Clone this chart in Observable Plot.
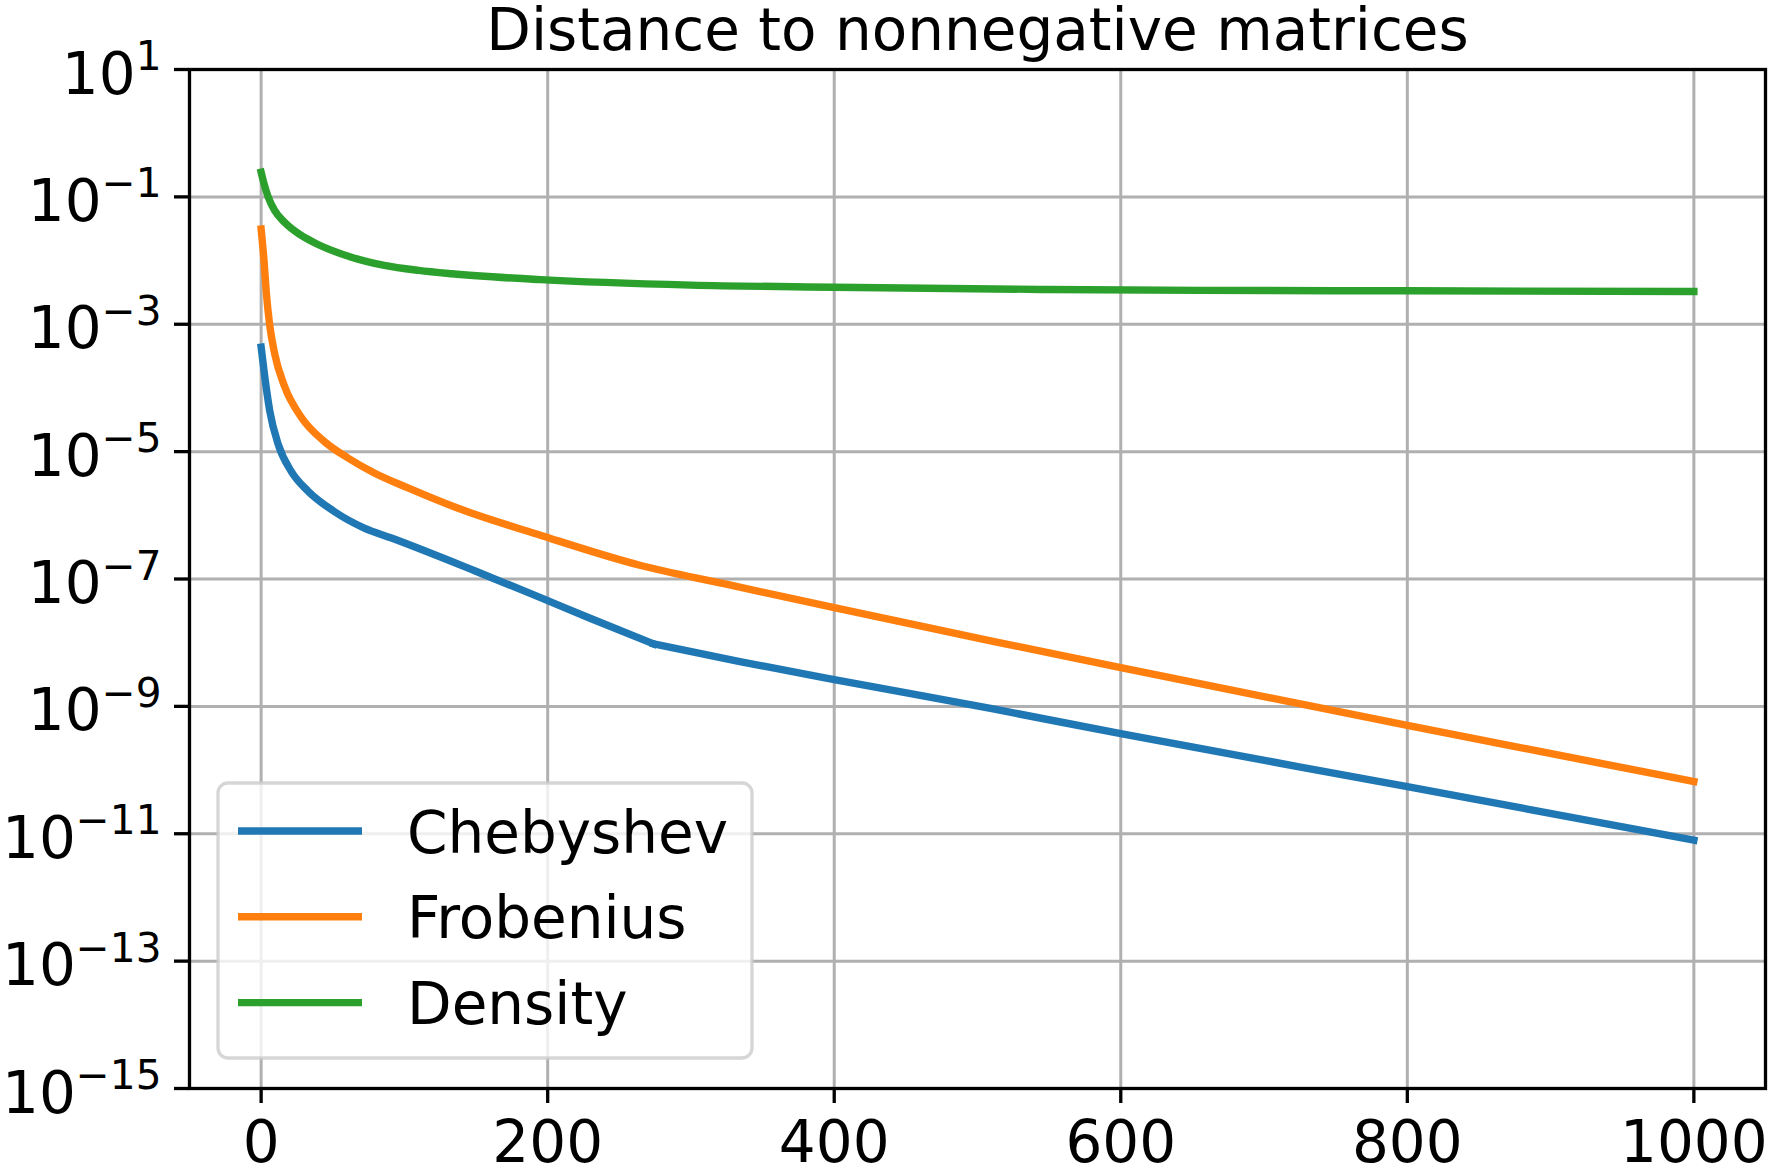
<!DOCTYPE html>
<html>
<head>
<meta charset="utf-8">
<script src="https://cdn.jsdelivr.net/npm/d3@7"></script>
<script src="https://cdn.jsdelivr.net/npm/@observablehq/plot@0.6"></script>
<style>
  html, body { margin: 0; padding: 0; background: #fff; }
  svg { display: block; }
</style>
</head>
<body>
<div id="chart"></div>
<script>
// ---- Data ----
const chartTitle = "Distance to nonnegative matrices";
const seriesNames = ["Chebyshev", "Frobenius", "Density"];
const seriesColors = ["#1f77b4", "#ff7f0e", "#2ca02c"];
const xTicks = [0, 200, 400, 600, 800, 1000];
const yTickExponents = [1, -1, -3, -5, -7, -9, -11, -13, -15];

const chebyshevIter = [0, 2.4, 6, 12, 21, 32.7, 51, 72, 91, 149, 195, 230, 274, 335, 400, 510, 600, 800, 1000];
const chebyshevValue = [4.37e-4, 1.58e-4, 4.37e-5, 1.29e-5, 4.90e-6, 2.40e-6, 1.15e-6, 6.31e-7, 4.40e-7, 1.35e-7, 5.10e-8, 2.40e-8, 9.55e-9, 5.01e-9, 2.63e-9, 9.20e-10, 3.72e-10, 5.50e-11, 7.94e-12];
const chebyshevKinkIter = 274; // sharp change of slope in the reference

const frobeniusIter = [0, 2.0, 3.6, 5.9, 9.4, 16.4, 28, 44, 60.6, 79, 102.5, 137, 195.4, 265, 323, 400, 510, 600, 800, 1000];
const frobeniusValue = [3.13e-2, 1.00e-2, 3.16e-3, 1.00e-3, 3.47e-4, 1.05e-4, 3.47e-5, 1.45e-5, 7.94e-6, 4.62e-6, 2.69e-6, 1.30e-6, 4.83e-7, 1.63e-7, 8.43e-8, 3.55e-8, 1.06e-8, 4.05e-9, 5.01e-10, 6.61e-11];

const densityIter = [0, 2.0, 4.8, 9.4, 16.4, 28, 39.7, 63, 86, 110, 133, 195, 300, 400, 544, 656, 800, 1000];
const densityValue = [0.243, 0.161, 0.1014, 0.0612, 0.0398, 0.0248, 0.0179, 0.0113, 0.00838, 0.00700, 0.00621, 0.00501, 0.00412, 0.00382, 0.00352, 0.00340, 0.00335, 0.00327];

// ---- Table built from the arrays ----
const seriesIters = [chebyshevIter, frobeniusIter, densityIter];
const seriesValues = [chebyshevValue, frobeniusValue, densityValue];
const rows = [];
seriesNames.forEach((name, k) => {
  seriesIters[k].forEach((it, i) => {
    const v = seriesValues[k][i];
    if (name === "Chebyshev") {
      if (it <= chebyshevKinkIter) rows.push({series: name, seg: name + "-a", iter: it, value: v});
      if (it >= chebyshevKinkIter) rows.push({series: name, seg: name + "-b", iter: it, value: v});
    } else {
      rows.push({series: name, seg: name, iter: it, value: v});
    }
  });
});
const yTicks = yTickExponents.map(e => Number("1e" + e));

const FONT = "DejaVu Sans";
const LW = 7.4;
const plot = Plot.plot({
  width: 1768,
  height: 1174,
  marginLeft: 189,
  marginRight: 3,
  marginTop: 69,
  marginBottom: 86,
  style: {fontFamily: FONT, fontSize: "58px", background: "white", color: "black", overflow: "visible"},
  x: {domain: [-50, 1050]},
  y: {type: "log", domain: [1e-15, 10]},
  color: {domain: seriesNames, range: seriesColors},
  marks: [
    Plot.gridX(xTicks, {stroke: "#b0b0b0", strokeOpacity: 1, strokeWidth: 3}),
    Plot.gridY(yTicks, {stroke: "#b0b0b0", strokeOpacity: 1, strokeWidth: 3}),
    Plot.line(rows, {x: "iter", y: "value", z: "seg", stroke: "series", strokeWidth: LW,
                     curve: "monotone-x", strokeLinecap: "square", strokeLinejoin: "round"}),
    Plot.axisX(xTicks, {tickSize: 15, tickPadding: 17, stroke: "black", strokeWidth: 3.3, fill: "black", label: null,
                        tickFormat: d => String(d)}),
    Plot.axisY(yTicks, {tickSize: 15, tickPadding: 13, stroke: "black", strokeWidth: 3.3, fill: "black", label: null,
                        tickFormat: d => "10^" + Math.round(Math.log10(d))}),
    Plot.frame({stroke: "black", strokeWidth: 3.3}),
    Plot.text([chartTitle], {frameAnchor: "top", lineAnchor: "bottom", dy: -20, fontSize: 58, fill: "black"})
  ]
});

// ---- Superscript exponent labels on the y axis ----
const svg = d3.select(plot);
svg.selectAll('g[aria-label="y-axis tick label"] text').each(function() {
  const t = d3.select(this);
  const s = this.textContent;
  const m = s.match(/^10\^(-?\d+)$/);
  if (!m) return;
  const exp = m[1].replace("-", "\u2212");
  t.text(null);
  const yAttr = this.getAttribute("y");
  if (!yAttr || /em$/.test(yAttr)) t.attr("y", 24);
  t.append("tspan").text("10");
  t.append("tspan").attr("font-size", 40.6).attr("dy", -23.4).text(exp);
});

// ---- Legend inside the frame (matplotlib style) ----
const lg = svg.append("g").attr("aria-label", "legend");
lg.append("rect")
  .attr("x", 218).attr("y", 783).attr("width", 534).attr("height", 275).attr("rx", 10)
  .attr("fill", "white").attr("fill-opacity", 0.8)
  .attr("stroke", "#cccccc").attr("stroke-opacity", 0.8).attr("stroke-width", 3.3);
seriesNames.forEach((name, i) => {
  const cy = 831 + i * 85.8;
  lg.append("line")
    .attr("x1", 238).attr("x2", 362).attr("y1", cy).attr("y2", cy)
    .attr("stroke", seriesColors[i]).attr("stroke-width", LW);
  lg.append("text")
    .attr("x", 407).attr("y", cy + 21.5)
    .attr("text-anchor", "start")
    .attr("font-family", FONT).attr("font-size", 58).attr("fill", "black")
    .text(name);
});

document.getElementById("chart").appendChild(plot);
</script>
</body>
</html>
